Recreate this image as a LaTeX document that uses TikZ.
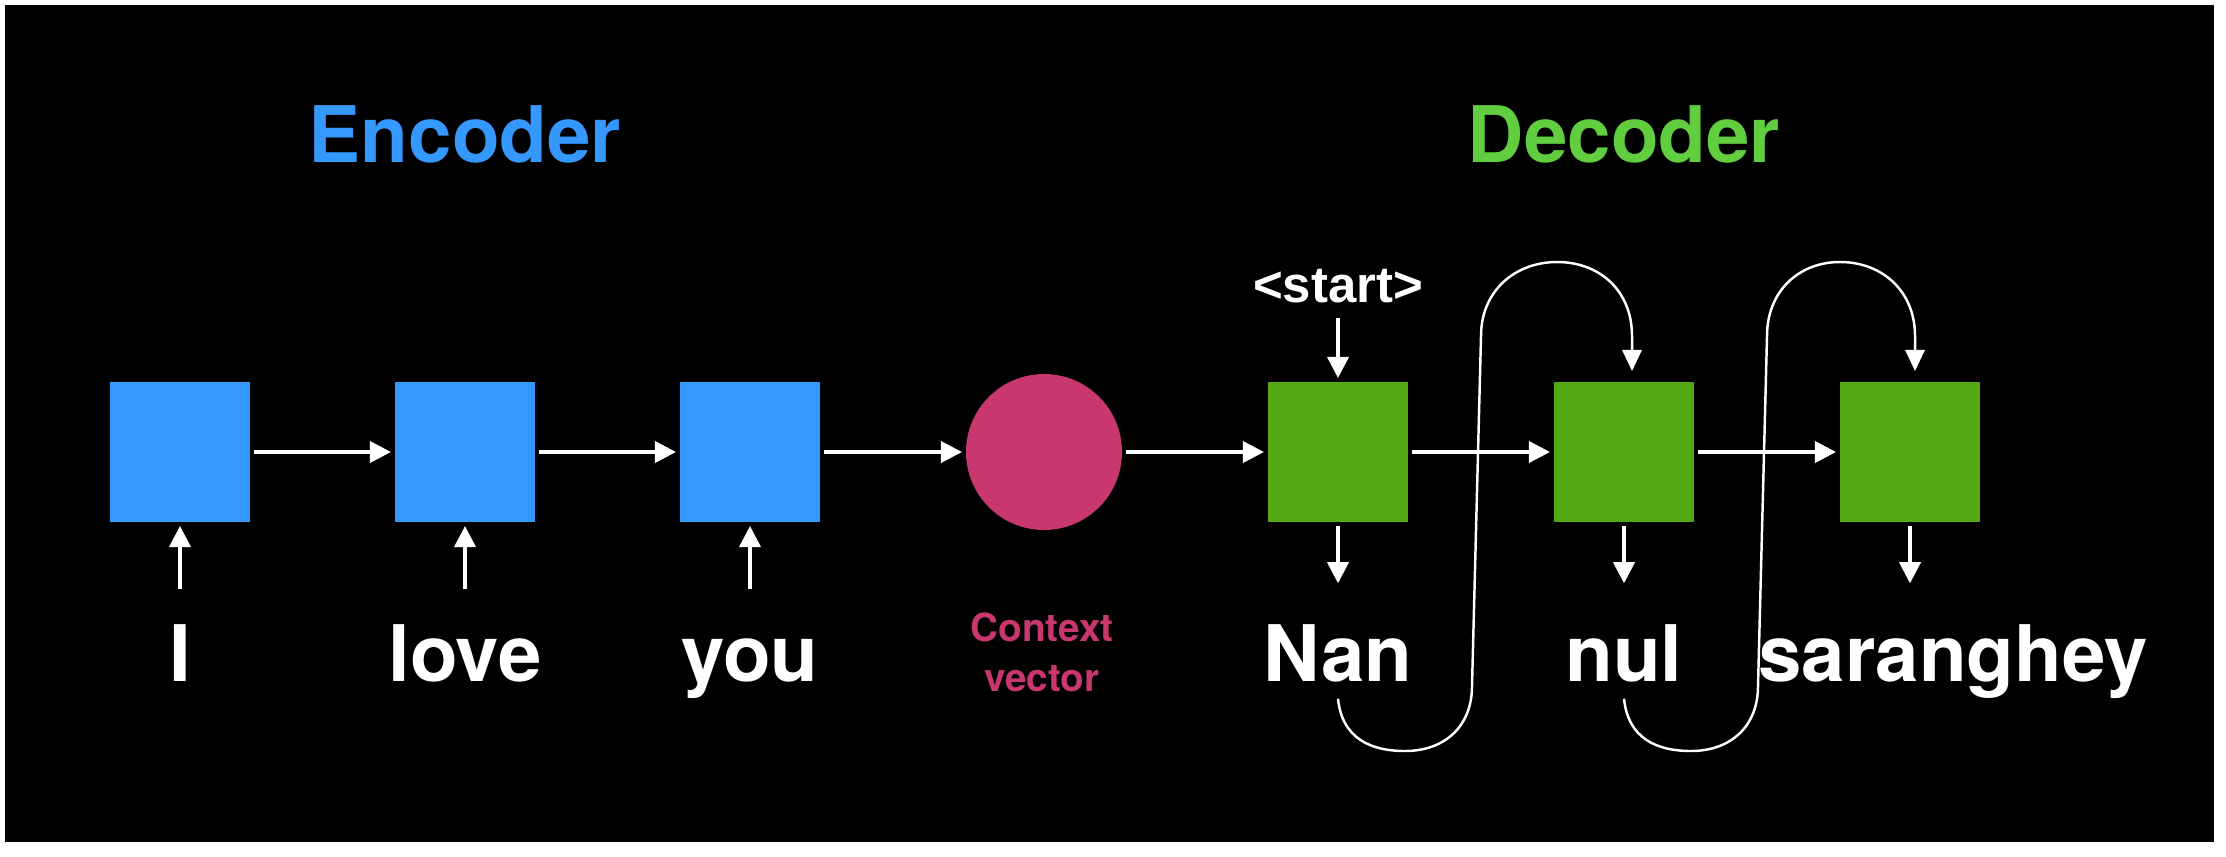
\documentclass[tikz,border=0pt]{standalone}
\usepackage{fontspec}
\setmainfont{TeX Gyre Heros}
\newfontfamily\startfont{Liberation Sans}
\usetikzlibrary{arrows.meta}

\definecolor{encblue}{RGB}{52,152,255}
\definecolor{decgreen}{RGB}{84,168,22}
\definecolor{declabel}{RGB}{96,206,62}
\definecolor{ctxpink}{RGB}{200,55,110}

\begin{document}
\begin{tikzpicture}[
    box/.style={rectangle, minimum size=1.4cm, inner sep=0pt, outer sep=0.04cm},
    arr/.style={-{Triangle[length=6pt,width=6pt]}, line width=1pt, white},
    loopline/.style={-{Triangle[length=6pt,width=5.5pt]}, line width=0.7pt, white},
    word/.style={text=white, font=\fontsize{22.2}{26}\selectfont\bfseries, inner sep=0pt,
        text height=0.58cm, text depth=0.17cm, anchor=base},
    title/.style={font=\fontsize{22.2}{26}\selectfont\bfseries, inner sep=0pt, anchor=base}
]
    % Background
    \fill[white] (0,0) rectangle (22.26,8.56);
    \fill[black] (0.05,0.14) rectangle (22.14,8.51);

    % Titles
    \node[title, text=encblue] (enctitle) at (4.65,6.94) {Encoder};
    \node[title, text=declabel] (dectitle) at (16.24,6.94) {Decoder};

    % Encoder cells and context vector
    \node[box, fill=encblue] (e1) at (1.80,4.04) {};
    \node[box, fill=encblue] (e2) at (4.65,4.04) {};
    \node[box, fill=encblue] (e3) at (7.50,4.04) {};
    \node[circle, fill=ctxpink, minimum size=1.56cm, inner sep=0pt, outer sep=0.04cm] (ctx) at (10.44,4.04) {};

    % Decoder cells
    \node[box, fill=decgreen] (d1) at (13.38,4.04) {};
    \node[box, fill=decgreen] (d2) at (16.24,4.04) {};
    \node[box, fill=decgreen] (d3) at (19.10,4.04) {};

    % Input and output words
    \node[word] (w1) at (1.80,1.75) {I};
    \node[word] (w2) at (4.65,1.75) {love};
    \node[word] (w3) at (7.50,1.75) {you};
    \node[word] (o1) at (13.38,1.75) {Nan};
    \node[word] (o2) at (16.24,1.75) {nul};
    \node[word] (o3) at (19.53,1.75) {saranghey};
    \node[text=ctxpink, font=\fontsize{11}{14.2}\selectfont\bfseries, align=center,
        anchor=north, inner sep=0pt] (ctxlabel) at (10.42,2.44) {Context\\vector};
    \node[text=white, font=\startfont\fontsize{14.5}{17}\selectfont\bfseries, inner sep=0pt,
        text depth=0pt, anchor=base] (st) at (13.38,5.54) {<start>};

    % Chain of hidden states
    \draw[arr] (e1) -- (e2);
    \draw[arr] (e2) -- (e3);
    \draw[arr] (e3) -- (ctx);
    \draw[arr] (ctx) -- (d1);
    \draw[arr] (d1) -- (d2);
    \draw[arr] (d2) -- (d3);

    % Inputs and outputs
    \draw[arr, shorten <=0.33cm] (w1) -- (e1);
    \draw[arr, shorten <=0.33cm] (w2) -- (e2);
    \draw[arr, shorten <=0.33cm] (w3) -- (e3);
    \draw[arr, shorten <=0.15cm] (st) -- (d1);
    \draw[arr, shorten >=0.39cm] (d1) -- (o1);
    \draw[arr, shorten >=0.39cm] (d2) -- (o2);
    \draw[arr, shorten >=0.39cm] (d3) -- (d3 |- o3.north);

    % Feed each output back as the next input
    \draw[loopline, shorten >=0.07cm] (o1.south) .. controls (13.42,1.18) and (13.70,1.05) .. (14.05,1.05)
        .. controls (14.45,1.05) and (14.72,1.30) .. (14.72,1.70) -- (14.81,5.20)
        .. controls (14.81,5.65) and (15.15,5.94) .. (15.57,5.94)
        .. controls (16.00,5.94) and (16.32,5.65) .. (16.32,5.20) -- ([xshift=0.08cm]d2.north);
    \draw[loopline, shorten >=0.07cm] (o2.south) .. controls (16.28,1.18) and (16.56,1.05) .. (16.91,1.05)
        .. controls (17.31,1.05) and (17.58,1.30) .. (17.58,1.70) -- (17.67,5.20)
        .. controls (17.67,5.65) and (17.99,5.94) .. (18.40,5.94)
        .. controls (18.82,5.94) and (19.15,5.65) .. (19.15,5.20) -- ([xshift=0.05cm]d3.north);
\end{tikzpicture}
\end{document}
